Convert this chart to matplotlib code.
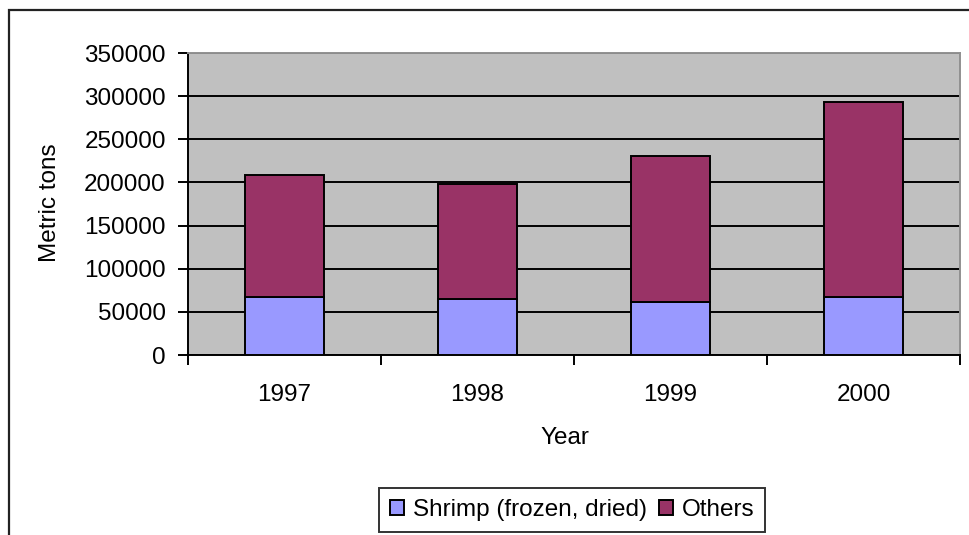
import matplotlib
matplotlib.use("Agg")
import matplotlib.pyplot as plt
from matplotlib.patches import Rectangle

years = ["1997", "1998", "1999", "2000"]
shrimp = [67500, 64500, 61000, 67000]
others = [141500, 134000, 170000, 226000]
y_ticks = [0, 50000, 100000, 150000, 200000, 250000, 300000, 350000]

plt.rcParams["font.family"] = ["Liberation Sans", "DejaVu Sans"]
plt.rcParams["font.size"] = 17.5

W, H = 969, 535
fig = plt.figure(figsize=(W / 100, H / 100), dpi=100)

# chart frame
fig.patches.append(Rectangle((9 / W, -0.1), 1.2, 1.1 - 10 / H, transform=fig.transFigure,
                             fill=False, edgecolor="#222222", linewidth=1.6))

ax = fig.add_axes([188 / W, 1 - 355 / H, (960 - 188) / W, (355 - 53) / H])
ax.set_facecolor("#c0c0c0")

x = range(len(years))
ax.bar(x, shrimp, width=0.41, color="#9999ff", edgecolor="black", linewidth=1.4,
       label="Shrimp (frozen, dried)", zorder=3)
ax.bar(x, others, width=0.41, bottom=shrimp, color="#993366", edgecolor="black",
       linewidth=1.4, label="Others", zorder=3)

ax.set_xlim(-0.5, 3.5)
ax.set_ylim(0, 350000)
ax.set_yticks(y_ticks)
ax.set_yticklabels([str(v) for v in y_ticks])
ax.yaxis.grid(True, color="black", linewidth=1.4, zorder=1)
ax.set_axisbelow(True)

# tick marks at category boundaries, labels at bar centres
ax.set_xticks([-0.5, 0.5, 1.5, 2.5, 3.5])
ax.set_xticklabels([])
ax.set_xticks(list(x), minor=True)
ax.set_xticklabels(years, minor=True)
ax.tick_params(axis="x", which="major", direction="out", length=7, width=1.4)
ax.tick_params(axis="x", which="minor", length=0, pad=21)
ax.tick_params(axis="y", direction="out", length=7, width=1.4, pad=9)

for side in ("left", "bottom"):
    ax.spines[side].set_color("black")
    ax.spines[side].set_linewidth(1.4)
for side in ("top", "right"):
    ax.spines[side].set_color("#909090")
    ax.spines[side].set_linewidth(1.4)

fig.text(50 / W, 1 - 203 / H, "Metric tons", rotation=90, ha="center", va="center")
fig.text(565 / W, 1 - 438 / H, "Year", ha="center", va="center")

leg = fig.legend(loc="center", bbox_to_anchor=(572 / W, 1 - 510 / H), ncol=2,
                 frameon=True, fancybox=False, edgecolor="black", handlelength=0.6,
                 handleheight=0.6, handletextpad=0.35, columnspacing=0.5,
                 borderpad=0.45, borderaxespad=0)
leg.get_frame().set_linewidth(1.4)

fig.savefig("out.png", dpi=100)
